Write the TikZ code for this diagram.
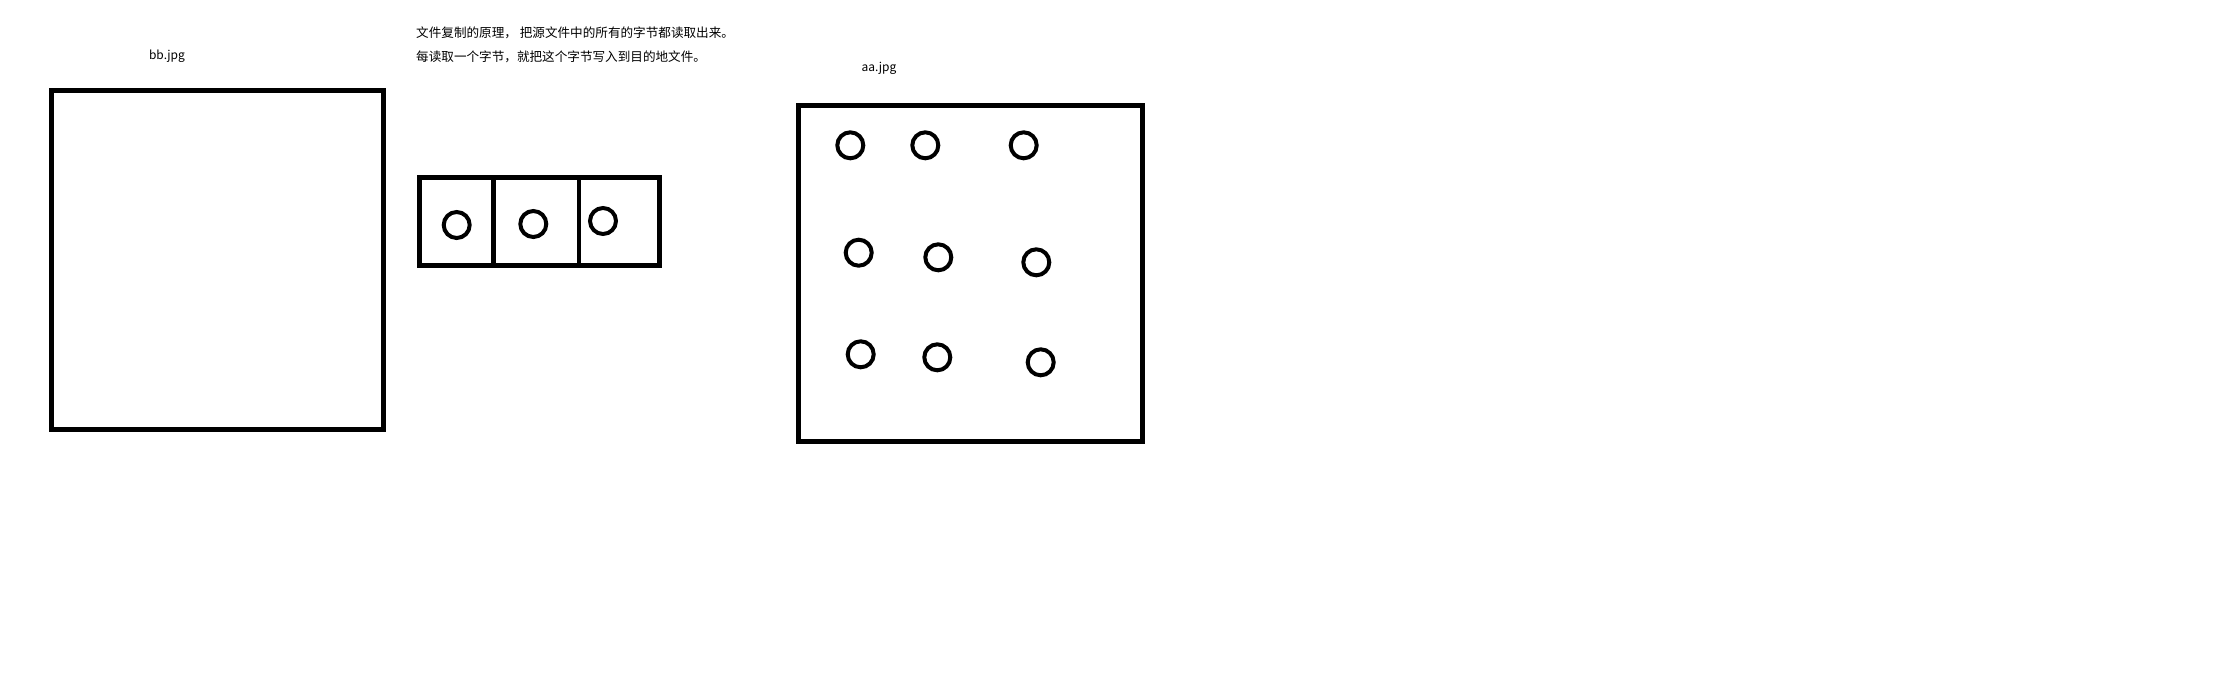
\documentclass[tikz,border=0pt]{standalone}
\usepackage{fontspec}
\setmainfont{Noto Sans CJK SC}
\newfontfamily\cjk{Noto Sans CJK SC}
\begin{document}
\begin{tikzpicture}[x=1pt,y=-1pt,
  box/.style={draw=black,line width=5pt,inner sep=0pt,outer sep=0pt},
  byte/.style={draw=black,line width=4pt,circle,minimum size=26pt,inner sep=0pt},
  lbl/.style={font=\cjk\fontsize{12}{14}\selectfont,inner sep=0pt,text=black},
  note/.style={font=\cjk\fontsize{12.6}{15}\selectfont,inner sep=0pt,anchor=west,text=black}]
\useasboundingbox[fill=white] (0,0) rectangle (2220,683);
% labels
\node[lbl] (bbl) at (167,56) {bb.jpg};
\node[lbl] (aal) at (879,68.5) {aa.jpg};
\node[note] (t1) at (416,32.5) {文件复制的原理， 把源文件中的所有的字节都读取出来。};
\node[note] (t2) at (416,57) {每读取一个字节，就把这个字节写入到目的地文件。};
% bb.jpg box
\node[box,minimum width=332pt,minimum height=339pt] (bb) at (217.4,260) {};
% byte strip
\node[box,minimum width=239.2pt,minimum height=88.3pt] (strip) at (539.4,221.65) {};
\coordinate (d1t) at (493.5,177.5);
\coordinate (d1b) at (493.5,265.8);
\coordinate (d2t) at (579,177.5);
\coordinate (d2b) at (579,265.8);
\draw[line width=5pt] (d1t) -- (d1b);
\draw[line width=4.5pt] (d2t) -- (d2b);
\node[byte] (s1) at (456.7,225) {};
\node[byte] (s2) at (533.3,224) {};
\node[byte] (s3) at (603,221) {};
% aa.jpg box
\node[box,minimum width=343.5pt,minimum height=336.5pt] (aa) at (970.25,273.25) {};
\node[byte] (a11) at (850.3,145.3) {};
\node[byte] (a12) at (925.3,145.3) {};
\node[byte] (a13) at (1023.7,145.3) {};
\node[byte] (a21) at (858.7,252.7) {};
\node[byte] (a22) at (938.3,257.3) {};
\node[byte] (a23) at (1036.3,262.3) {};
\node[byte] (a31) at (860.7,354.3) {};
\node[byte] (a32) at (937.3,357.3) {};
\node[byte] (a33) at (1040.7,362.3) {};
\end{tikzpicture}
\end{document}
